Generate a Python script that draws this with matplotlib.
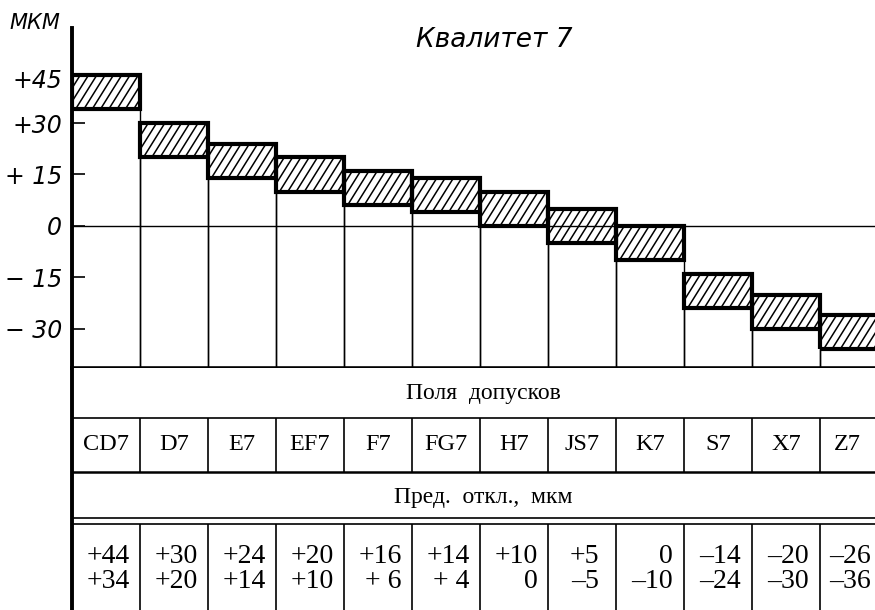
import numpy as np
import matplotlib
matplotlib.use("Agg")
import matplotlib.pyplot as plt
from matplotlib.transforms import ScaledTranslation
from matplotlib.collections import LineCollection

# ---------------- data ----------------
codes = ['CD7', 'D7', 'E7', 'EF7', 'F7', 'FG7', 'H7', 'JS7', 'K7', 'S7', 'X7', 'Z7']
upper = [44, 30, 24, 20, 16, 14, 10, 5, 0, -14, -20, -26]
lower = [34, 20, 14, 10, 6, 4, 0, -5, -10, -24, -30, -36]
ytick_values = [45, 30, 15, 0, -15, -30]
ytick_labels = ['+45', '+30', '+ 15', '0', '− 15', '− 30']
title = 'Квалитет 7'
unit_label = 'МКМ'
row1_label = 'Поля  допусков'
row3_label = 'Пред.  откл.,  мкм'

# ---------------- layout ----------------
W, H = 875, 610
fig = plt.figure(figsize=(W / 100, H / 100), dpi=100)

x_left = 72
chart_top = 28
chart_bot = 368
col_px = 68
xmax = (W - x_left) / col_px
ymin, ymax = -41.4, 57.7
px_per_y = (chart_bot - chart_top) / (ymax - ymin)
hatch_angle = np.deg2rad(58)
hatch_step_px = 8.3

sans_it = dict(family='DejaVu Sans', style='oblique')
serif = dict(family='Liberation Serif')

ax = fig.add_axes([x_left / W, (H - chart_bot) / H, (W - x_left) / W, (chart_bot - chart_top) / H])
ax.set_xlim(0, xmax)
ax.set_ylim(ymin, ymax)

up = np.array(upper, dtype=float)
lo = np.array(lower, dtype=float)
xc = np.arange(len(codes)) + 0.5
# visible centre of each column (last one is clipped by the figure edge)
xvis = np.array([(i + min(i + 1, xmax)) / 2 for i in range(len(codes))])

# thin columns below the tolerance boxes
ax.bar(xc, lo - ymin, bottom=ymin, width=1.0, facecolor='none',
       edgecolor='black', linewidth=1.0, zorder=2)
# white fill of the tolerance boxes
fills = ax.bar(xc, up - lo, bottom=lo, width=1.0, facecolor='white',
               edgecolor='none', linewidth=0, zorder=3)
# custom hatching (steep diagonal lines) clipped to each box
for i, patch in enumerate(fills.patches):
    b, t = lo[i], up[i]
    h_px = (t - b) * px_per_y
    shift = h_px / np.tan(hatch_angle) / col_px
    step = hatch_step_px / col_px
    x0s = np.arange(i - shift, i + 1 + step, step)
    segs = [[(x0, b), (x0 + shift, t)] for x0 in x0s]
    lc = LineCollection(segs, colors='black', linewidths=1.1, zorder=3.2)
    ax.add_collection(lc)
    lc.set_clip_path(patch)
# zero line
ax.axhline(0, color='black', linewidth=1.0, zorder=3.5)
# thick outlines of the boxes
ax.bar(xc, up - lo, bottom=lo, width=1.0, facecolor='none',
       edgecolor='black', linewidth=3.0, zorder=4)

for s in ['top', 'right']:
    ax.spines[s].set_visible(False)
ax.spines['left'].set_linewidth(2.8)
ax.spines['bottom'].set_linewidth(2.6)
ax.set_xticks([])
ax.set_yticks(ytick_values)
ax.set_yticklabels(ytick_labels, fontsize=17, **sans_it)
ax.tick_params(axis='y', direction='in', length=9, width=1.2, pad=7)
ax.yaxis.get_major_ticks()[0].tick1line.set_visible(False)
lab45 = ax.get_yticklabels()[0]
lab45.set_transform(lab45.get_transform() + ScaledTranslation(0, -7 / 100, fig.dpi_scale_trans))

fig.text(35 / W, 1 - 23 / H, unit_label, ha='center', va='center', fontsize=15, **sans_it)
fig.text(494 / W, 1 - 40 / H, title, ha='center', va='center', fontsize=19, **sans_it)

# ---------------- table ----------------
tab_h = H - chart_bot
tax = fig.add_axes([x_left / W, 0, (W - x_left) / W, tab_h / H])
tax.set_xlim(0, xmax)
tax.set_ylim(tab_h, 0)
tax.set_xticks([])
tax.set_yticks([])
for s in ['top', 'right', 'bottom']:
    tax.spines[s].set_visible(False)
tax.spines['left'].set_linewidth(2.8)

r_codes_top, r_codes_bot = 50, 104
r_vals_top1, r_vals_top2 = 150, 156
tax.axhline(r_codes_top, color='black', lw=1.2)
tax.axhline(r_codes_bot, color='black', lw=1.8)
tax.axhline(r_vals_top1, color='black', lw=1.2)
tax.axhline(r_vals_top2, color='black', lw=1.2)

bounds = np.arange(1, len(codes))
tax.vlines(bounds, r_codes_top, r_codes_bot, color='black', lw=1.2)
tax.vlines(bounds, r_vals_top2, tab_h, color='black', lw=1.2)

center_x = (483 - x_left) / col_px
tax.text(center_x, 25, row1_label, ha='center', va='center', fontsize=17, **serif)
tax.text(center_x, 129, row3_label, ha='center', va='center', fontsize=17, **serif)


def fmt(v, other):
    if v == 0:
        return '0'
    sign = '+' if v > 0 else '–'
    pad = ' ' if (abs(v) < 10 and abs(other) >= 10 and v > 0) else ''
    return f'{sign}{pad}{abs(v)}'


for i, c in enumerate(codes):
    tax.text(xvis[i], 77, c, ha='center', va='center', fontsize=17.5, **serif)
    txt = fmt(upper[i], lower[i]) + '\n' + fmt(lower[i], upper[i])
    tax.text(xvis[i] + 0.03, 201, txt, ha='center', va='center', fontsize=20,
             multialignment='right', linespacing=1.05, **serif)

fig.savefig('out.png', dpi=100)
